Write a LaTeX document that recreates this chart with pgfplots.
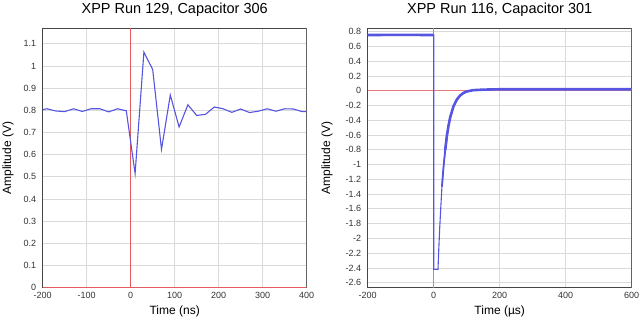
\documentclass[border=0pt]{standalone}
\usepackage{pgfplots}
\pgfplotsset{compat=1.18}
\usepackage{fontspec}
\setmainfont{Liberation Sans}
\definecolor{sigblue}{RGB}{85,85,225}
\definecolor{zred}{RGB}{228,90,95}
\definecolor{gridc}{RGB}{218,218,218}
\definecolor{framec}{RGB}{70,70,70}
\pgfplotsset{
  every axis title shift=0pt,
  myax/.style={
    scale only axis, width=264bp, height=259.4bp,
    anchor=south west,
    axis line style={framec, line width=0.9bp},
    grid=major, major grid style={gridc, line width=0.8bp},
    major tick length=0,
    tick label style={font=\fontsize{9bp}{10bp}\selectfont, text=black!80},
    xticklabel style={yshift=-1bp},
    yticklabel style={xshift=-3bp},
    /pgf/number format/assume math mode=true,
    label style={font=\fontsize{12bp}{14bp}\selectfont},
    title style={font=\fontsize{14.5bp}{16bp}\selectfont, at={(axis description cs:0.5,1.0705)}, anchor=center},
    xlabel style={at={(axis description cs:0.5,-0.0925)}, anchor=center},
  }
}
\begin{document}
\begin{tikzpicture}
\useasboundingbox (0,0) rectangle (640bp,320bp);
% Left
\begin{axis}[myax, at={(42.7bp,32.3bp)},
  xmin=-200, xmax=400, ymin=0, ymax=1.17,
  xtick={-200,-100,0,100,200,300,400},
  ytick={0,0.1,0.2,0.3,0.4,0.5,0.6,0.7,0.8,0.9,1,1.1},
  title={XPP Run 129, Capacitor 306},
  xlabel={Time (ns)}, ylabel={Amplitude (V)},
  ylabel style={at={(axis description cs:-0.131,0.5)}, anchor=center, rotate=0},
]
\addplot[zred, line width=1bp] coordinates {(0,0) (0,1.17)};
\addplot[zred, line width=1bp] coordinates {(-200,0) (400,0)};
\addplot[sigblue, line width=1.1bp] coordinates {
(-200,0.803) (-190,0.807) (-170,0.797) (-150,0.794) (-130,0.807) (-110,0.795)
(-90,0.807) (-70,0.807) (-50,0.793) (-30,0.807) (-10,0.798) (10,0.515)
(30,1.062) (50,0.984) (70,0.624) (90,0.869) (110,0.725) (130,0.825)
(150,0.777) (170,0.782) (190,0.815) (210,0.807) (230,0.791) (250,0.806)
(270,0.790) (290,0.796) (310,0.807) (330,0.796) (350,0.807) (370,0.806)
(390,0.794) (400,0.794)};
\draw[gray!90!black, line width=1.6bp] (rel axis cs:1,0) -- (rel axis cs:1,1);
\end{axis}
% Right
\begin{axis}[myax, at={(367.7bp,32.3bp)},
  xmin=-200, xmax=600, ymin=-2.668, ymax=0.846,
  xtick={-200,0,200,400,600},
  ytick={-2.6,-2.4,-2.2,-2,-1.8,-1.6,-1.4,-1.2,-1,-0.8,-0.6,-0.4,-0.2,0,0.2,0.4,0.6,0.8},
  title={XPP Run 116, Capacitor 301},
  xlabel={Time (µs)}, ylabel={Amplitude (V)},
  ylabel style={at={(axis description cs:-0.154,0.5)}, anchor=center, rotate=0},
]
\addplot[zred!80!white, line width=1bp] coordinates {(0,-2.668) (0,0.846)};
\addplot[zred!80!white, line width=1bp] coordinates {(-200,0) (600,0)};
\addplot[sigblue, line width=1.1bp] coordinates {
(-200,0.755) (-100,0.757) (0,0.755) (0,-2.42) (13,-2.42) (15,-2.19) (18,-1.88)
(21,-1.62) (25,-1.30) (30,-1.02) (35,-0.80) (40,-0.61) (45,-0.47) (50,-0.36)
(60,-0.21) (70,-0.12) (80,-0.065) (90,-0.03) (100,-0.01) (120,0.008)
(150,0.015) (200,0.02) (300,0.02) (400,0.02) (500,0.02) (600,0.02)};
\addplot[sigblue, line width=2.6bp] coordinates {
(-200,0.755) (-100,0.757) (-1,0.755)};
\addplot[sigblue, line width=1.8bp] coordinates {
(25,-1.30) (30,-1.02) (35,-0.80) (40,-0.61)};
\addplot[sigblue, line width=2.6bp, line cap=round] coordinates {
(35,-0.80) (40,-0.61) (45,-0.47) (50,-0.36)
(60,-0.21) (70,-0.12) (80,-0.065) (90,-0.03) (100,-0.01) (120,0.008)
(150,0.015) (200,0.02) (300,0.02) (400,0.02) (500,0.02) (600,0.02)};
\draw[gray!90!black, line width=1.6bp] (rel axis cs:1,0) -- (rel axis cs:1,1);
\end{axis}
\end{tikzpicture}
\end{document}
